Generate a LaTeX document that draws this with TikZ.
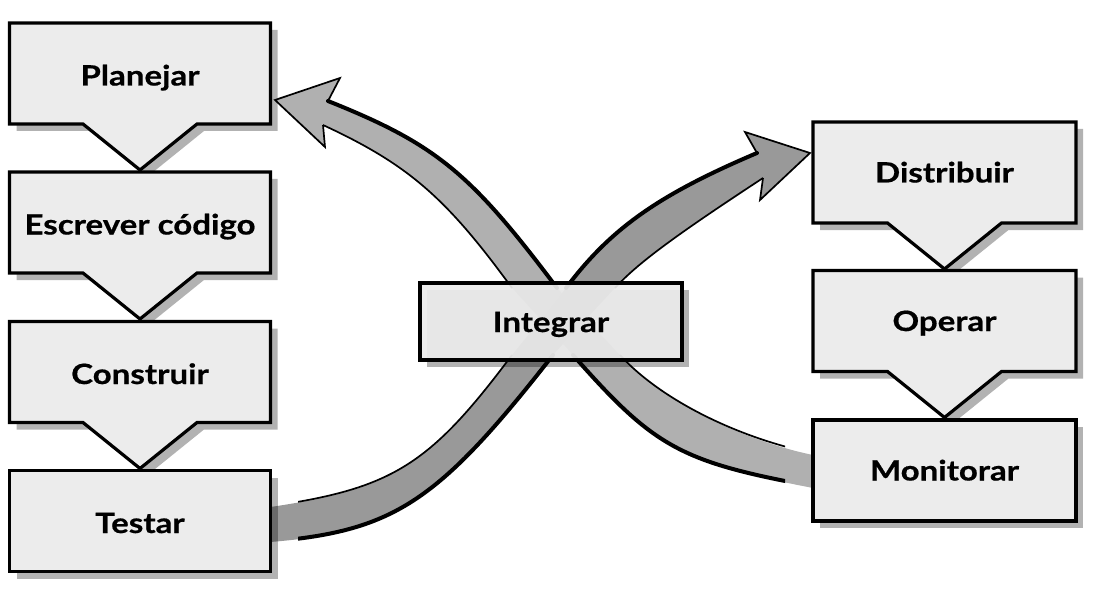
\documentclass[tikz,border=0pt]{standalone}
\usepackage{fontspec}
\setmainfont{Lato}[BoldFeatures={FakeStretch=1.18, FakeBold=0.6}]
\usetikzlibrary{calc}
\definecolor{boxfill}{HTML}{ECECEC}
\definecolor{darkband}{HTML}{999999}
\definecolor{lightband}{HTML}{B0B0B0}
\pgfdeclarelayer{bands}
\pgfdeclarelayer{boxes}
\pgfsetlayers{bands,boxes,main}
\tikzset{
  stagebox/.style={inner sep=0pt, outer sep=0pt, minimum width=261pt, minimum height=101pt,
    text height=27pt, text depth=3pt, font=\fontsize{28}{33}\selectfont\bfseries},
  rightbox/.style={stagebox, minimum width=263pt, text height=23pt},
  boxline/.style={draw=black, line width=3.2pt, fill=boxfill, line join=miter},
  boxshadow/.style={fill=black, fill opacity=0.3},
  bandedge/.style={draw=black, line width=1.7pt, line join=round},
  bandouter/.style={draw=black, line width=4pt, line cap=round},
}
\newcommand{\pointerbox}[1]{%
  \fill[boxshadow] ([shift={(7,7)}]#1.north west) -- ([shift={(7,7)}]#1.north east)
    -- ([shift={(7,7)}]#1.south east) -- ([shift={(64,7)}]#1.south)
    -- ([shift={(7,53)}]#1.south) -- ([shift={(-50,7)}]#1.south)
    -- ([shift={(7,7)}]#1.south west) -- cycle;
  \path[boxline] (#1.north west) -- (#1.north east) -- (#1.south east)
    -- ([xshift=57pt]#1.south) -- ([yshift=-46pt]#1.south) -- ([xshift=-57pt]#1.south)
    -- (#1.south west) -- cycle;
}
\newcommand{\plainbox}[2][]{%
  \fill[boxshadow] ([shift={(7,7)}]#2.north west) rectangle ([shift={(7,7)}]#2.south east);
  \path[boxline,#1] (#2.north west) rectangle (#2.south east);
}
\begin{document}
\begin{tikzpicture}[x=1pt,y=-1pt]
\path[use as bounding box] (0,0) rectangle (1100,596);

% stage nodes (text)
\node[stagebox] (planejar) at (140,73.5) {Planejar};
\node[stagebox] (escrever) at (140,222.5) {Escrever código};
\node[stagebox] (construir) at (140,372) {Construir};
\node[stagebox] (testar) at (140,521) {Testar};
\node[rightbox] (distribuir) at (944.5,172.5) {Distribuir};
\node[rightbox] (operar) at (944.5,321) {Operar};
\node[rightbox] (monitorar) at (944.5,470.5) {Monitorar};
\node[rightbox, minimum width=262pt, minimum height=77pt, text height=24pt] (integrar) at (551,321.5) {Integrar};

\begin{pgfonlayer}{bands}
\fill[white] (0,0) rectangle (1100,596);
% light band: Monitorar -> Integrar -> Planejar
\fill[lightband] (monitorar.west |- 0,455) .. controls (741.9,440.4) and (661.1,400.4) .. (620,355)
  -- (557,288) .. controls (470.1,172.2) and (435.8,144.2) .. (328,101)
  -- (340,78) -- (275,100) -- (325,147) -- (323,125)
  .. controls (407.9,164.4) and (445.7,197) .. (512,288)
  -- (573,355) .. controls (656,449.1) and (680.9,462.4) .. (monitorar.west |- 0,488) -- cycle;
\begin{scope}
  \clip (0,0) rectangle (785,596);
  \draw[bandedge] (822,455) .. controls (741.9,440.4) and (661.1,400.4) .. (620,355);
  \draw[bandouter] (573,355) .. controls (656,449.1) and (680.9,462.4) .. (822,488);
\end{scope}
\draw[bandouter] (557,288) .. controls (470.1,172.2) and (435.8,144.2) .. (328,101);
\draw[bandedge] (323,125) .. controls (407.9,164.4) and (445.7,197) .. (512,288);
\draw[bandedge, line join=miter] (328,101) -- (340,78) -- (275,100) -- (325,147) -- (323,125);

% dark band: Testar -> Integrar -> Distribuir
\fill[darkband] (testar.east |- 0,507) .. controls (391.7,489.1) and (428.7,466.4) .. (512,355)
  -- (566,288) .. controls (610.6,228.6) and (658.3,194.9) .. (757,153)
  -- (745,132) -- (810,153) -- (760,200) -- (763,178)
  .. controls (673.75,236.5) and (636.75,264) .. (615,288)
  -- (553,355) .. controls (436.6,503.8) and (393.4,531.8) .. (testar.east |- 0,542) -- cycle;
\begin{scope}
  \clip (298,0) rectangle (1100,596);
  \draw[bandedge] (265,507) .. controls (391.7,489.1) and (428.7,466.4) .. (512,355);
  \draw[bandouter] (553,355) .. controls (436.6,503.8) and (393.4,531.8) .. (265,542);
\end{scope}
\draw[bandouter] (566,288) .. controls (610.6,228.6) and (658.3,194.9) .. (757,153);
\draw[bandedge] (763,178) .. controls (673.75,236.5) and (636.75,264) .. (615,288);
\draw[bandedge, line join=miter] (757,153) -- (745,132) -- (810,153) -- (760,200) -- (763,178);
\end{pgfonlayer}

\begin{pgfonlayer}{boxes}
\pointerbox{planejar}
\pointerbox{escrever}
\pointerbox{construir}
\plainbox{testar}
\pointerbox{distribuir}
\pointerbox{operar}
\plainbox{monitorar}
\plainbox[fill opacity=0.93]{integrar}
\end{pgfonlayer}
\end{tikzpicture}
\end{document}
